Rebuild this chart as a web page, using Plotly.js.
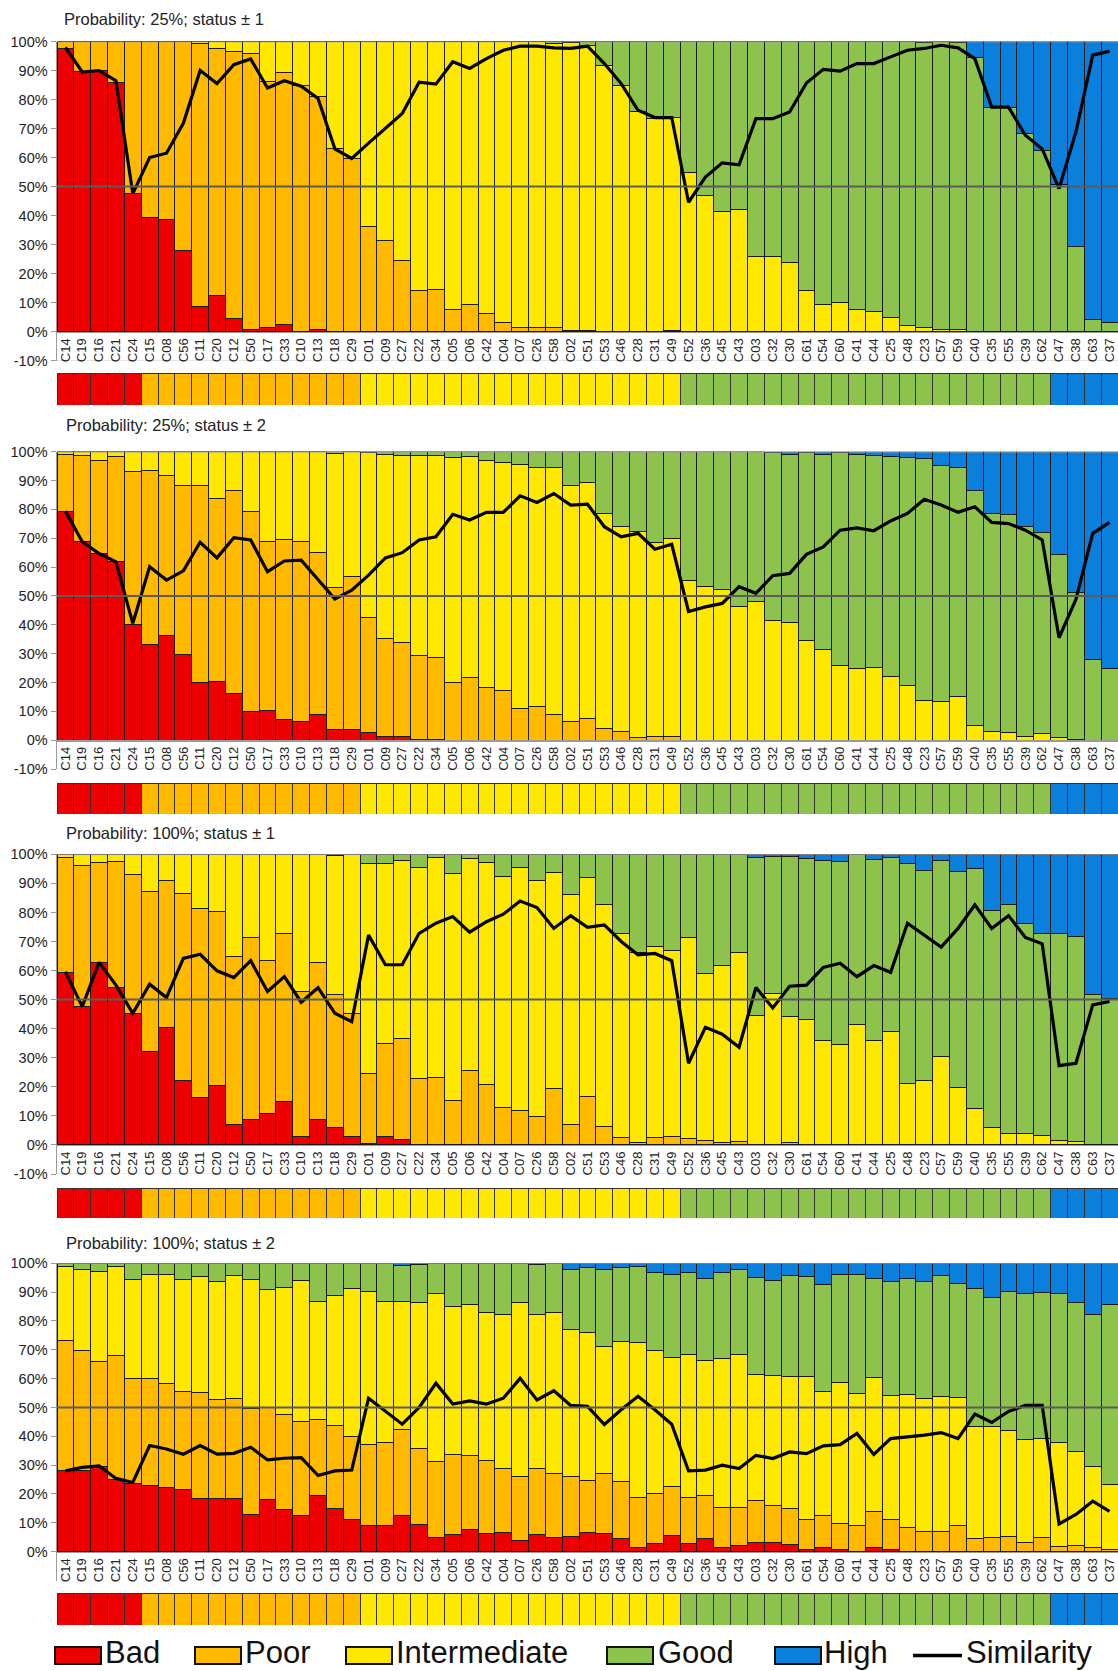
<!DOCTYPE html>
<html><head><meta charset="utf-8">
<script src="https://cdn.plot.ly/plotly-3.0.1.min.js"></script>
<style>html,body{margin:0;padding:0;background:#fff;overflow:hidden}#chart{width:1118px;height:1671px}</style>
</head><body><div id="chart"></div>
<script>
// ---------- DATA ----------
const categories = ['C14','C19','C16','C21','C24',
 'C15','C08','C56','C11','C20','C12','C50','C17','C33','C10','C13','C18','C29',
 'C01','C09','C27','C22','C34','C05','C06','C42','C04','C07','C26','C58','C02','C51','C53','C46','C28','C31','C49',
 'C52','C36','C45','C43','C03','C32','C30','C61','C54','C60','C41','C44','C25','C48','C23','C57','C59','C40','C35','C55','C39','C62',
 'C47','C38','C63','C37'];
const classes = ['Bad','Bad','Bad','Bad','Bad',
 'Poor','Poor','Poor','Poor','Poor','Poor','Poor','Poor','Poor','Poor','Poor','Poor','Poor',
 'Intermediate','Intermediate','Intermediate','Intermediate','Intermediate','Intermediate','Intermediate','Intermediate','Intermediate','Intermediate','Intermediate','Intermediate','Intermediate','Intermediate','Intermediate','Intermediate','Intermediate','Intermediate','Intermediate',
 'Good','Good','Good','Good','Good','Good','Good','Good','Good','Good','Good','Good','Good','Good','Good','Good','Good','Good','Good','Good','Good','Good',
 'High','High','High','High'];
const seriesNames = ['Bad','Poor','Intermediate','Good','High'];
const legendNames = ['Bad','Poor','Intermediate','Good','High','Similarity'];
const panelTitles = ['Probability: 25%; status \u00b1 1','Probability: 25%; status \u00b1 2',
                     'Probability: 100%; status \u00b1 1','Probability: 100%; status \u00b1 2'];

// Panel 1: Probability 25%, status ±1
const p1Bad = [97.5,89.8,90,86,47.6,
 39.4,38.5,27.9,8.8,12.3,4.6,0.9,1.5,2.6,0.2,0.8,0,0,
 0,0,0,0,0,0,0,0,0,0,0,0,0,0,0,0,0,0,0,
 0,0,0,0,0,0,0,0,0,0,0,0,0,0,0,0,0,0,0,0,0,0,
 0,0,0,0];
const p1Poor = [2.5,10.2,10,14,52.4,
 60.6,61.5,72.1,90.4,85.3,92.1,95,84.6,86.6,84.8,80.2,63.1,59.7,
 36.2,31.3,24.7,14.1,14.6,7.5,9.5,6.3,3.2,1.5,1.4,1.5,0.3,0.5,0,0,0,0,0.3,
 0,0,0,0,0,0,0,0,0,0,0,0,0,0,0,0,0,0,0,0,0,0,
 0,0,0,0];
const p1Inter = [0,0,0,0,0,
 0,0,0,0.8,2.4,3.3,4.1,13.9,10.8,15,19,36.9,40.3,
 63.8,68.7,75.3,85.9,85.4,92.5,90.5,93.7,96.8,98.5,98.6,97.8,99.2,98.2,91.6,84.9,76,73.4,73.5,
 55,47,41.4,42.2,26,26,23.9,14.2,9.3,10.1,7.5,6.9,4.9,2.3,1.3,0.9,0.7,0,0,0,0,0,
 0,0,0,0];
const p1Good = [0,0,0,0,0,
 0,0,0,0,0,0,0,0,0,0,0,0,0,
 0,0,0,0,0,0,0,0,0,0,0,0.7,0.5,1.3,8.4,15.1,24,26.6,26.2,
 45,53,58.6,57.8,74,74,76.1,85.8,90.7,89.9,92.5,93.1,95.1,97.7,98.2,99.1,98.8,94.5,77.2,77.2,68.2,62.5,
 50.6,29.5,4.1,3.1];
const p1High = [0,0,0,0,0,
 0,0,0,0,0,0,0,0,0,0,0,0,0,
 0,0,0,0,0,0,0,0,0,0,0,0,0,0,0,0,0,0,0,
 0,0,0,0,0,0,0,0,0,0,0,0,0,0,0.5,0,0.5,5.5,22.8,22.8,31.8,37.5,
 49.4,70.5,95.9,96.9];
const p1Sim = [98,89.5,90,86.5,47.6,
 60,61.5,71.8,90,85.5,92,94,84,86.5,84.6,80.4,63,59.7,
 65,70,75.2,86,85.3,93,90.7,94.1,97,98.4,98.4,97.8,97.6,98.4,92.4,85.5,76.3,73.8,73.8,
 44.6,53.3,58.2,57.5,73.4,73.4,75.7,85.7,90.4,89.8,92.4,92.4,94.7,97,97.6,98.7,97.8,94.1,77.4,77.4,67.7,63,
 49.3,68.8,95.3,96.7];

// Panel 2: Probability 25%, status ±2
const p2Bad = [79.2,69,64.7,61.8,40.1,
 33.2,36.2,29.8,20,20.5,16.1,9.8,10.4,7.3,6.6,8.9,3.8,3.8,
 2.5,1.3,1.3,0.3,0.3,0,0,0,0,0,0,0,0,0,0,0,0,0,0,
 0,0,0,0,0,0,0,0,0,0,0,0,0,0,0,0,0,0,0,0,0,0,
 0,0,0,0];
const p2Poor = [19.9,29.8,32.4,36.5,53,
 60.2,55.7,58.6,68.4,63.3,70.3,69.4,58.4,62.1,62.4,56.1,49.1,52.8,
 39.9,34,32.6,28.9,28.4,20,21.7,18.3,17.3,11,11.6,8.8,6.4,7.5,4,2.9,0.8,1.4,1.4,
 0,0,0,0,0,0,0,0,0,0,0,0,0,0,0,0,0,0,0,0,0,0,
 0,0,0,0];
const p2Inter = [0.9,1.2,2.9,1.7,6.9,
 6.6,8.1,11.6,11.6,16.2,13.6,20.8,31.2,30.6,31,35,46.5,43.4,
 57.3,63.9,64.7,69.4,70.1,78,76.8,78.8,78.9,84.4,83,85.8,82,81.9,74.6,71.1,71.5,67.2,68.6,
 55.5,53.4,52.3,46.5,48.2,41.6,40.8,34.7,31.6,26,24.9,25.1,22,18.8,13.9,13.5,15,5,2.9,2.7,1.2,2.3,
 0.8,0.3,0,0];
const p2Good = [0,0,0,0,0,
 0,0,0,0,0,0,0,0,0,0,0,0.6,0,
 0.3,0.8,1.4,1.4,1.2,2,1.5,2.9,3.8,4.6,5.4,5.4,11.6,10.6,21.4,26,27.7,31.4,30,
 44.5,46.6,47.7,53.5,51.8,58.1,58.4,65,67.6,73.7,74.3,73.5,76.5,79.2,83.8,81.6,79.5,81.7,75.7,75.7,72.8,69.7,
 63.6,50.9,28.1,24.9];
const p2High = [0,0,0,0,0,
 0,0,0,0,0,0,0,0,0,0,0,0,0,
 0,0,0,0,0,0,0,0,0,0,0,0,0,0,0,0,0,0,0,
 0,0,0,0,0,0.3,0.8,0.3,0.8,0.3,0.8,1.4,1.5,2,2.3,4.9,5.5,13.3,21.4,21.6,26,28,
 35.6,48.8,71.9,75.1];
const p2Sim = [79.4,68.8,64.7,61.8,40.5,
 60.1,55.5,58.7,68.6,63.2,70.2,69.4,58.4,62.1,62.4,55.5,48.9,52,
 57.2,63.2,65,69.4,70.5,78.3,76.3,79,79,84.7,82.4,85.5,81.5,81.8,74,70.5,71.7,66.2,67.9,
 44.6,46.2,47.4,53.2,50.9,57,57.8,64.4,67,72.8,73.6,72.6,76,78.6,83.5,81.5,79,80.9,75.5,75.1,72.8,69.4,
 35.5,48.8,71.7,75.5];

// Panel 3: Probability 100%, status ±1
const p3Bad = [59.4,47.8,62.7,54.2,45.3,
 32.3,40.5,22.1,16.3,20.6,7.1,8.6,10.9,15.1,2.9,8.9,6,2.8,
 0.6,2.9,2,0,0,0,0,0,0,0,0,0,0,0,0,0,0,0,0,
 0,0,0,0,0,0,0,0,0,0,0,0,0,0,0,0,0,0,0,0,0,0,
 0,0,0,0];
const p3Poor = [39.5,48.3,34.5,43.3,47.6,
 54.9,50.4,64.5,65.1,59.7,57.7,62.7,52.5,57.7,49.9,53.8,45.6,42.5,
 24.1,32.1,34.5,22.9,23.2,15.3,25.6,20.9,12.8,12,9.7,19.4,7.2,16.6,6.5,2.6,0.8,2.5,2.9,
 2.3,1.4,0.9,1.1,0,0,0.8,0,0,0,0,0,0,0,0,0,0,0,0,0,0,0,
 0,0,0,0];
const p3Inter = [1.1,3.9,2.8,2.5,7.1,
 12.8,9.1,13.4,18.6,19.7,35,28.7,36.6,27.2,47.2,37.3,47.9,54.7,
 72,61.7,61.5,72.5,75.7,78.2,73,76.3,79.5,83.5,81.2,74.4,78.8,75.5,76.1,70,65.4,65.7,64,
 69,57.7,60.8,65.2,44.4,52,43.4,43,36.1,34.6,41.6,35.9,39,21.2,22,30.4,19.7,12.4,6.1,4,4,3.4,
 1.7,1.1,0,0];
const p3Good = [0,0,0,0,0,
 0,0,0,0,0,0.2,0,0,0,0,0,0.5,0,
 3.3,3.3,2,4.6,1.1,6.5,1.4,2.8,7.7,4.5,9.1,6.2,14,7.9,17.4,27.4,33.8,31.8,33.1,
 28.7,40.9,38.3,33.7,54.5,47.2,55,55.6,61.7,62.9,58.2,62.4,60,75.7,72.3,67.4,74.3,82.6,74.7,78.8,72.3,69.4,
 70.9,70.6,51.6,50.5];
const p3High = [0,0,0,0,0,
 0,0,0,0,0,0,0,0,0,0,0,0,0,
 0,0,0,0,0,0,0,0,0,0,0,0,0,0,0,0,0,0,0,
 0,0,0,0,1.1,0.8,0.8,1.4,2.2,2.5,0.2,1.7,1,3.1,5.7,2.2,6,5,19.2,17.2,23.7,27.2,
 27.4,28.3,48.4,49.5];
const p3Sim = [59.6,47.6,62.8,55,45.3,
 55.3,50.7,64.2,65.6,59.9,57.6,63.4,52.8,57.9,49.1,54.1,45.3,42.4,
 72.2,62,62,72.8,76.3,78.6,73.2,76.8,79.4,83.9,81.7,74.5,78.9,74.9,75.7,70,65.4,65.9,63.4,
 28.1,40.5,38.1,33.6,54.2,47.1,54.6,55,61.1,62.5,57.9,61.7,59.4,76.3,72.2,68.1,74.5,82.6,74.5,78.9,71.4,69.2,
 27.3,28.1,48.2,49.4];

// Panel 4: Probability 100%, status ±2
const p4Bad = [28,28.3,29.5,25.2,23.7,
 22.8,22.3,21.4,18.3,18.5,18.5,12.9,18.2,14.5,12.5,19.4,15,11.2,
 9.2,9.2,12.7,9.5,4.9,6,7.7,6.4,6.7,3.7,6,5,5.2,6.7,6.3,4.4,1.4,2.9,5.5,
 2.7,4.4,1.5,2.1,3.1,3.1,2.5,0.6,1.4,0.6,0.2,1.5,0.9,0,0,0,0,0,0,0,0,0,
 0,0,0,0];
const p4Poor = [45.1,41.6,36.4,42.8,36.2,
 37.3,36.1,34.1,37,34.1,34.7,36.6,31.9,32.9,32.8,26.5,28.6,28.7,
 27.8,28.7,29.7,26.3,26.5,27.8,25.5,25.2,22.2,22.3,22.9,22.2,20.8,18.1,20.8,20.1,17.3,17.3,17.2,
 16.1,15,13.7,13.1,14.8,12.8,12.3,10.4,11.1,9.2,9,12.3,10.1,8.3,6.9,6.9,9.2,4.6,4.8,5.2,3.1,4.8,
 1.7,2.1,1.4,0.6];
const p4Inter = [25.7,27.8,31.2,30.8,34.6,
 35.9,37.6,39,40.1,41,42.5,45,40.9,44.3,48.9,41,45.4,51.4,
 53.2,49,44.3,50.6,58.2,51.2,52.6,51.4,53.5,60.4,53.4,55.8,51,51.1,44.2,48.5,54,49.4,44.5,
 49.6,46.9,51.7,53.2,43.5,45.2,46,49.9,43.2,48.7,45.6,46.5,43.2,46.3,46.2,47,44.4,38.9,38.5,36.7,35.8,34.4,
 36.1,32.7,28,22.8];
const p4Good = [1.2,2.3,2.9,1.2,5.5,
 4,4,5.5,4.6,6.4,4.3,5.5,9,8.3,5.8,13.1,11,8.7,
 9.8,13.1,12.4,13.3,10.4,15,14.2,17,17.6,13.6,17.4,17,20.8,22.5,26.7,25.4,26.1,27.3,28.8,
 28.5,28.6,30,29.4,33.8,33.1,34.9,34.6,36.8,37.5,41.2,34.6,39.6,40,40.6,41.8,39.5,47.6,44.9,48.3,50.5,50.8,
 51.8,51.7,52.8,62.3];
const p4High = [0,0,0,0,0,
 0,0,0,0,0,0,0,0,0,0,0,0,0,
 0,0,0.9,0.3,0,0,0,0,0,0,0.3,0,2.2,1.6,2,1.6,1.2,3.1,4,
 3.1,5.1,3.1,2.2,4.8,5.8,4.3,4.5,7.5,4,4,5.1,6.2,5.4,6.3,4.3,6.9,8.9,11.8,9.8,10.6,10,
 10.4,13.5,17.8,14.3];
const p4Sim = [28,29.2,29.7,25.4,24,
 36.8,35.6,33.8,36.8,33.8,34.1,36.2,31.8,32.4,32.6,26.4,28,28.3,
 53.2,48.6,44.2,50,58.4,51.2,52.3,51.2,53.2,60.1,52.6,55.8,50.7,50.4,44.1,49.2,53.9,49.2,44.2,
 28,28.3,30,28.8,33.4,32.3,34.6,34,36.7,37.1,41,33.7,39.2,39.8,40.4,41.3,39.2,47.7,44.8,48.6,50.7,50.7,
 9.6,12.9,17.5,14];

// ---------- STYLE / LAYOUT ----------
const colors = {Bad:'#EE0000', Poor:'#FFBA00', Intermediate:'#FFE800', Good:'#8DC24C', High:'#0A7FDC', Similarity:'#000000'};
const FONT = 'Liberation Sans, Arial, Helvetica, sans-serif';
const W = 1118, H = 1671;
const pf = px => 1 - px / H;
const xDomain = [57 / W, 1];

const panels = [
  {series:[p1Bad,p1Poor,p1Inter,p1Good,p1High], sim:p1Sim, top:41.5, bottom:360.7, stripTop:373, stripBottom:405, titleX:62, titleY:19, neg:true},
  {series:[p2Bad,p2Poor,p2Inter,p2Good,p2High], sim:p2Sim, top:451.7, bottom:769, stripTop:783, stripBottom:814, titleX:64, titleY:425, neg:true},
  {series:[p3Bad,p3Poor,p3Inter,p3Good,p3High], sim:p3Sim, top:854.3, bottom:1174, stripTop:1188, stripBottom:1218, titleX:64, titleY:833, neg:true},
  {series:[p4Bad,p4Poor,p4Inter,p4Good,p4High], sim:p4Sim, top:1263.3, bottom:1580.5, stripTop:1593, stripBottom:1625, titleX:64, titleY:1243, neg:false}
];
// legend geometry (px): key start, key end, text start
const legendKeys = [[55,101,104],[195,241,244],[346,392,395],[607,653,657],[775,821,823],[913,962,965]];
const legendY = [1647, 1664];

const traces = [];
const layout = {
  width: W, height: H,
  margin: {l:0, r:0, t:0, b:0, autoexpand:false},
  paper_bgcolor: '#fff', plot_bgcolor: 'rgba(0,0,0,0)',
  barmode: 'stack', bargap: 0,
  font: {family: FONT, color: '#222'},
  showlegend: false,
  shapes: [], annotations: []
};

panels.forEach((p, i) => {
  const nMain = 2*i + 1, nStrip = 2*i + 2;
  const xm = nMain === 1 ? 'x' : 'x' + nMain, ym = nMain === 1 ? 'y' : 'y' + nMain;
  const xs = 'x' + nStrip, ys = 'y' + nStrip;
  const keyXm = nMain === 1 ? 'xaxis' : 'xaxis' + nMain;
  const keyYm = nMain === 1 ? 'yaxis' : 'yaxis' + nMain;

  p.series.forEach((vals, k) => {
    traces.push({type:'bar', name: seriesNames[k], x: categories, y: vals,
      xaxis: xm, yaxis: ym, showlegend: false,
      marker: {color: colors[seriesNames[k]], line: {color:'#1a1a1a', width:1}},
      hoverinfo: 'x+y+name'});
  });
  traces.push({type:'scatter', mode:'lines', name:'Similarity', x: categories, y: p.sim,
    xaxis: xm, yaxis: ym, showlegend: false,
    line: {color:'#000', width:3.2}});
  traces.push({type:'bar', name:'class', x: categories, y: categories.map(() => 1),
    xaxis: xs, yaxis: ys, showlegend:false, hoverinfo:'x',
    marker: {color: classes.map(c => colors[c]), line: {color:'#333', width:1}}});

  const zeroPx = p.top + (p.bottom - p.top) * 100 / 110;
  layout[keyXm] = {domain: xDomain, anchor:'free', position: pf(zeroPx),
    type:'category', categoryorder:'array', categoryarray: categories, range:[-0.5, 62.5],
    tickangle: -90, showline: true, linecolor:'#9a9a9a', linewidth:1.5, ticks:'',
    showgrid:false, zeroline:false, automargin:false,
    tickfont:{size:13, family:FONT, color:'#222'}, fixedrange:true};
  const tv = p.neg ? [-10,0,10,20,30,40,50,60,70,80,90,100] : [0,10,20,30,40,50,60,70,80,90,100];
  layout[keyYm] = {domain:[pf(p.bottom), pf(p.top)], anchor: xm, range:[-10, 100],
    tickmode:'array', tickvals: tv, ticktext: tv.map(v => v + '%'),
    showline:true, linecolor:'#9a9a9a', linewidth:1.5, automargin:false,
    ticks:'outside', ticklen:5, tickcolor:'#9a9a9a', showgrid:false, zeroline:false,
    tickfont:{size:14.5, family:FONT, color:'#222'}, fixedrange:true};
  layout['xaxis' + nStrip] = {domain: xDomain, anchor: ys, type:'category', categoryorder:'array',
    categoryarray: categories, range:[-0.5, 62.5], visible:false, fixedrange:true};
  layout['yaxis' + nStrip] = {domain:[pf(p.stripBottom), pf(p.stripTop)], anchor: xs,
    range:[0, 1], visible:false, fixedrange:true};

  const xdom = xm + ' domain';
  layout.shapes.push({type:'line', xref:xdom, yref:ym, x0:0, x1:1, y0:100, y1:100,
    line:{color:'#9a9a9a', width:1.5}, layer:'above'});
  layout.shapes.push({type:'line', xref:xdom, yref:ym, x0:0, x1:1, y0:50, y1:50,
    line:{color:'#5c5c5c', width:2}, layer:'above'});
  if (p.neg) {
    layout.shapes.push({type:'line', xref:xdom, yref:ym, x0:0, x1:1, y0:-10, y1:-10,
      line:{color:'#d4d4d4', width:1}, layer:'below'});
  }
  layout.annotations.push({text: panelTitles[i], xref:'paper', yref:'paper',
    x: p.titleX / W, y: pf(p.titleY), xanchor:'left', yanchor:'middle', showarrow:false,
    font:{size:16.5, family:FONT, color:'#222'}});
});

// legend keys (boxes / line) and labels
legendNames.forEach((name, k) => {
  const [a, b, t] = legendKeys[k];
  const ymid = (legendY[0] + legendY[1]) / 2;
  if (name === 'Similarity') {
    layout.shapes.push({type:'line', xref:'paper', yref:'paper', x0:a/W, x1:b/W, y0:pf(ymid), y1:pf(ymid),
      line:{color:'#000', width:3.5}});
  } else {
    layout.shapes.push({type:'rect', xref:'paper', yref:'paper', x0:a/W, x1:b/W,
      y0:pf(legendY[1]), y1:pf(legendY[0]), fillcolor: colors[name], line:{color:'#111', width:2}});
  }
  layout.annotations.push({text: name, xref:'paper', yref:'paper', x: t/W, y: pf(ymid - 3),
    xanchor:'left', yanchor:'middle', showarrow:false, borderpad:0,
    font:{size:31, family:FONT, color:'#111'}});
});

Plotly.newPlot('chart', traces, layout, {displayModeBar:false, staticPlot:true});
</script>
</body></html>
